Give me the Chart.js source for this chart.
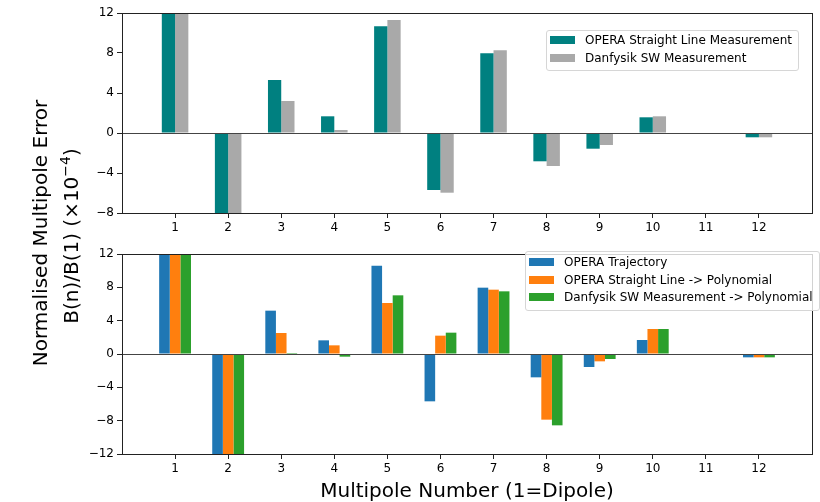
<!DOCTYPE html>
<html>
<head>
<meta charset="utf-8">
<script src="https://cdn.jsdelivr.net/npm/chart.js@4"></script>
<style>
  body { margin: 0; background: #fff; font-family: "DejaVu Sans", sans-serif; }
  #wrap { position: relative; width: 820px; height: 502px; overflow: hidden; }
  canvas { position: absolute; left: 0; }
  .ytitle { position: absolute; font-size: 20px; color: #000; white-space: nowrap;
            transform: translate(-50%, -50%) rotate(-90deg); }
  .xtitle { position: absolute; font-size: 20px; color: #000; white-space: nowrap;
            transform: translateX(-50%); }
  .legend { position: absolute; background: rgba(255,255,255,0.8); border: 1px solid #d6d6d6;
            border-radius: 3px; font-size: 12px; color: #000; box-sizing: border-box; }
  .legend .row { position: absolute; left: 3px; display: flex; align-items: center; white-space: nowrap; }
  .legend .sw { width: 25px; height: 8px; margin-right: 10px; }
</style>
</head>
<body>
<div id="wrap">
  <canvas id="topChart" width="820" height="240" style="top:0"></canvas>
  <canvas id="botChart" width="820" height="262" style="top:240px"></canvas>
  <div class="ytitle" style="left:40px; top:233px">Normalised Multipole Error</div>
  <div class="ytitle" style="left:70px; top:236px">B(n)/B(1) (×10<sup style="font-size:14px">−4</sup>)</div>
  <div class="xtitle" style="left:467px; top:478px">Multipole Number (1=Dipole)</div>
  <div id="legTop" class="legend" style="left:546px; top:30px; width:253px; height:41px"></div>
  <div id="legBot" class="legend" style="left:525px; top:251px; width:295px; height:60px"></div>
</div>
<script>
// multipole numbers (x axis)
const multipoles = [1, 2, 3, 4, 5, 6, 7, 8, 9, 10, 11, 12]

// top panel (dipole and 2nd values run off the axis)
const operaStraight = [10000, -25, 5.3, 1.67, 10.67, -5.7, 7.97, -2.83, -1.57, 1.57, 0, -0.43]
const danfysikSW = [10000, -25, 3.2, 0.3, 11.3, -5.97, 8.27, -3.3, -1.2, 1.67, 0, -0.43]

// bottom panel
const operaTraj = [10000, -25, 5.2, 1.64, 10.6, -5.68, 7.96, -2.8, -1.56, 1.68, 0, -0.4]
const operaPoly = [10000, -25, 2.52, 1.04, 6.12, 2.2, 7.72, -7.88, -0.88, 3.0, 0, -0.4]
const danfysikPoly = [10000, -25, 0.12, -0.32, 7.04, 2.56, 7.52, -8.56, -0.6, 3.0, 0, -0.4]

const topTicks = [-8, -4, 0, 4, 8, 12]
const botTicks = [-12, -8, -4, 0, 4, 8, 12]

const FONT = "'DejaVu Sans', sans-serif"

function toXY(vals) {
    return vals.map((v, i) => ({ x: multipoles[i], y: v }))
}

// frame round the plot area plus the zero line
const framePlugin = {
    id: 'frame',
    afterDatasetsDraw(chart) {
        const a = chart.chartArea
        const c = chart.ctx
        const y0 = Math.round(chart.scales.y.getPixelForValue(0)) + 0.5
        c.save()
        c.strokeStyle = '#444'
        c.lineWidth = 1
        c.beginPath()
        c.moveTo(a.left, y0)
        c.lineTo(a.right, y0)
        c.stroke()
        c.strokeStyle = '#222'
        c.strokeRect(Math.round(a.left) + 0.5, Math.round(a.top) + 0.5,
            Math.round(a.right - a.left), Math.round(a.bottom - a.top))
        c.restore()
    }
}

function makeChart(id, datasets, yTicks, padTop, xHeight, catPct) {
    return new Chart(document.getElementById(id), {
        type: 'bar',
        data: { datasets: datasets },
        plugins: [framePlugin],
        options: {
            responsive: false,
            animation: false,
            layout: { padding: { top: padTop, right: 8, left: 0, bottom: 0 } },
            datasets: { bar: { categoryPercentage: catPct, barPercentage: 1, borderWidth: 0 } },
            plugins: { legend: { display: false }, tooltip: { enabled: false } },
            scales: {
                x: {
                    type: 'linear',
                    min: 0,
                    max: 13,
                    offset: false,
                    afterBuildTicks: s => { s.ticks = multipoles.map(v => ({ value: v })) },
                    afterFit: s => { s.height = xHeight },
                    grid: { offset: false, drawOnChartArea: false, tickLength: 5, tickColor: '#222' },
                    border: { color: '#222' },
                    ticks: { color: '#000', font: { family: FONT, size: 12 }, padding: 3,
                             maxRotation: 0, autoSkip: false }
                },
                y: {
                    min: yTicks[0],
                    max: yTicks[yTicks.length - 1],
                    afterBuildTicks: s => { s.ticks = yTicks.map(v => ({ value: v })) },
                    afterFit: s => { s.width = 122 },
                    grid: { drawOnChartArea: false, tickLength: 5, tickColor: '#222' },
                    border: { color: '#222' },
                    ticks: { color: '#000', font: { family: FONT, size: 12 }, padding: 3,
                             callback: v => String(v).replace('-', '\u2212') }
                }
            }
        }
    })
}

const topSets = [
    { label: 'OPERA Straight Line Measurement', data: toXY(operaStraight), backgroundColor: '#008080' },
    { label: 'Danfysik SW Measurement', data: toXY(danfysikSW), backgroundColor: '#a9a9a9' }
]
const botSets = [
    { label: 'OPERA Trajectory', data: toXY(operaTraj), backgroundColor: '#1f77b4' },
    { label: 'OPERA Straight Line -> Polynomial', data: toXY(operaPoly), backgroundColor: '#ff7f0e' },
    { label: 'Danfysik SW Measurement -> Polynomial', data: toXY(danfysikPoly), backgroundColor: '#2ca02c' }
]

makeChart('topChart', topSets, topTicks, 13, 27, 0.5)
makeChart('botChart', botSets, botTicks, 14, 48, 0.6)

// legends as html, built from the dataset labels
function buildLegend(id, sets, firstTop, step) {
    const box = document.getElementById(id)
    sets.forEach((d, i) => {
        const row = document.createElement('div')
        row.className = 'row'
        row.style.top = (firstTop + i * step) + 'px'
        row.innerHTML = '<span class="sw" style="background:' + d.backgroundColor + '"></span>' + d.label
        box.appendChild(row)
    })
}
buildLegend('legTop', topSets, 2, 18)
buildLegend('legBot', botSets, 3, 17.5)
</script>
</body>
</html>
